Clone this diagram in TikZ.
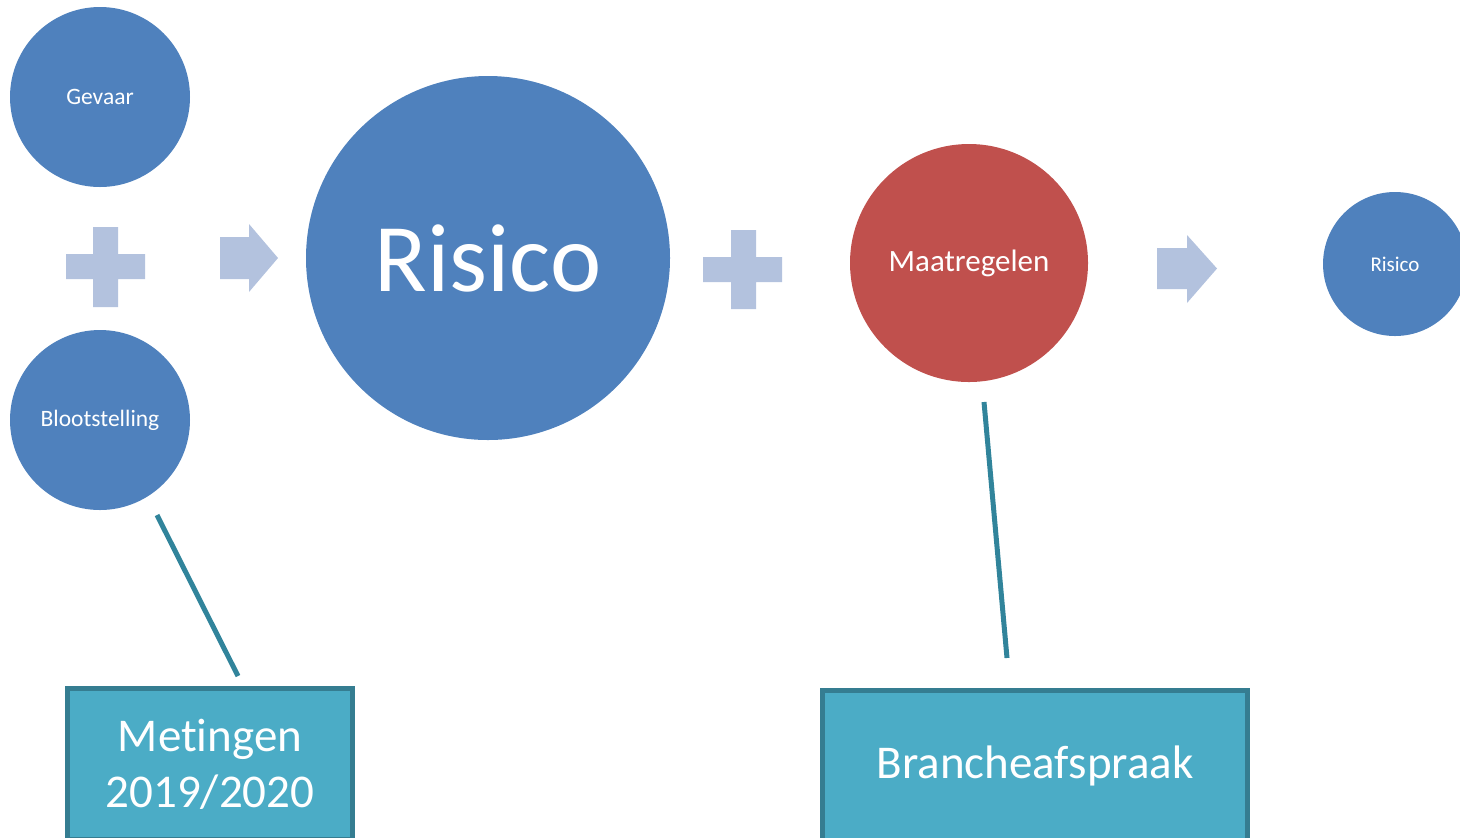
\documentclass[tikz,border=0pt]{standalone}
\usepackage{fontspec}
\setmainfont[Ligatures=NoCommon, RawFeature={-liga;-clig}]{Carlito}
\definecolor{blauw}{HTML}{4F81BD}
\definecolor{rood}{HTML}{C0504D}
\definecolor{licht}{HTML}{B3C2DE}
\definecolor{lijn}{HTML}{31849B}
\definecolor{vak}{HTML}{4BACC6}
\definecolor{vakrand}{HTML}{357D91}
\begin{document}
\begin{tikzpicture}[x=0.5pt, y=-0.5pt,
        bol/.style={circle, fill=blauw, text=white, inner sep=0pt},
        vakje/.style={rectangle, fill=vak, draw=vakrand, line width=2.5pt, text=white, align=center, inner sep=0pt},
        verbinding/.style={draw=lijn, line width=2.5pt}]
            \useasboundingbox (0, 0) rectangle (1460, 837);

            \node [bol, minimum size=90pt, font=\fontsize{11.75}{14}\selectfont] (gevaar) at (100, 97) {Gevaar};
            \node [bol, minimum size=90pt, font=\fontsize{11.75}{14}\selectfont] (bloot) at (100, 420) {Blootstelling};
            \node [bol, minimum size=182pt, font=\fontsize{48.5}{56}\selectfont] (risico) at (488, 258) {Risico};
            \node [bol, fill=rood, minimum size=119pt, font=\fontsize{15.5}{18}\selectfont] (maat) at (969, 263) {Maatregelen};
            \node [bol, minimum size=72pt, font=\fontsize{10.5}{12}\selectfont] (restrisico) at (1395, 264) {Risico};

            % plus en pijlen
            \fill [licht] (93, 227) -- (118, 227) -- (118, 254) -- (145, 254) -- (145, 279) -- (118, 279) -- (118, 307)
                -- (93, 307) -- (93, 279) -- (66, 279) -- (66, 254) -- (93, 254) -- cycle;
            \fill [licht] (731, 230) -- (756, 230) -- (756, 257) -- (782, 257) -- (782, 282) -- (756, 282) -- (756, 309)
                -- (731, 309) -- (731, 282) -- (703, 282) -- (703, 257) -- (731, 257) -- cycle;
            \fill [licht] (220, 237) -- (249, 237) -- (249, 224) -- (278, 258) -- (249, 292) -- (249, 279) -- (220, 279) -- cycle;
            \fill [licht] (1157, 248) -- (1187, 248) -- (1187, 235) -- (1217, 268.5) -- (1187, 303) -- (1187, 289) -- (1157, 289) -- cycle;

            \node [vakje, minimum width=142.5pt, minimum height=75.5pt, font=\fontsize{23.5}{28}\selectfont] (metingen) at (210, 764) {Metingen\\2019/2020};
            \node [vakje, minimum width=212.5pt, minimum height=75.5pt, font=\fontsize{23.5}{28}\selectfont] (branche) at (1035, 766) {Brancheafspraak};

            \coordinate (blootlijn) at (157, 515);
            \coordinate (metlijn) at (238, 676);
            \coordinate (maatlijn) at (984, 402);
            \coordinate (branchelijn) at (1007, 658);
            \draw [verbinding] (blootlijn) -- (metlijn);
            \draw [verbinding] (maatlijn) -- (branchelijn);
        \end{tikzpicture}
\end{document}
